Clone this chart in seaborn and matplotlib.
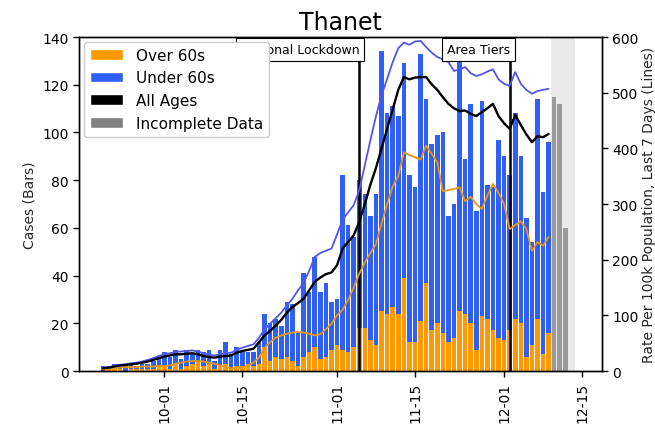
import matplotlib
matplotlib.use("Agg")
import matplotlib.pyplot as plt
import matplotlib.dates as mdates
import matplotlib.transforms as mtransforms
from matplotlib.patches import Patch
import numpy as np
import pandas as pd
import seaborn as sns

# Colours
ORANGE = "#ff9900"
BLUE = "#2f5ff5"
BLUE_LINE = "#5555e8"
ORANGE_LINE = "#e8960f"

TITLE = "Thanet"
FIRST_DAY = "2020-09-20"

# Daily cases, 2020-09-20 .. 2020-12-09
cases_all = [
    2, 2, 3, 3, 3, 3, 2, 3, 3, 4, 6,
    8, 6, 9, 5, 9, 7, 9, 8, 9, 4, 9, 12, 7, 10,
    8, 8, 8, 12, 24, 20, 22, 19, 29, 28, 16, 41, 33, 48, 33, 37, 29,
    30, 82, 61, 56, 80, 74, 65, 74, 134, 108, 111, 107, 129, 82, 77,
    133, 114, 95, 99, 100, 65, 70, 131, 89, 112, 67, 113, 78, 77, 97,
    90, 82, 108, 90, 64, 54, 114, 75, 96,
]
cases_over60 = [
    0, 1, 1, 1, 0, 1, 1, 1, 1, 1, 2,
    2, 1, 3, 1, 2, 3, 4, 2, 3, 1, 2, 3, 1, 2,
    2, 3, 2, 3, 10, 4, 6, 5, 6, 4, 2, 6, 8, 10, 5, 6, 9,
    11, 9, 8, 10, 18, 18, 13, 11, 25, 24, 27, 24, 39, 12, 12,
    21, 37, 17, 20, 16, 12, 14, 25, 24, 20, 9, 23, 22, 17, 14,
    13, 17, 22, 20, 6, 11, 22, 7, 16,
]

# Incomplete days (grey bars)
incomplete_days = ["2020-12-10", "2020-12-11", "2020-12-12"]
incomplete_cases = [115, 112, 60]

# 7-day rate per 100k, same days as the bars
rate_all = [
    5, 6, 8, 10, 11, 12, 13, 15, 17, 20, 23,
    26, 28, 30, 30, 31, 32, 30, 27, 25, 24, 26, 27, 28, 33,
    36, 38, 40, 52, 64, 72, 82, 92, 105, 115, 122, 130, 145, 160, 168, 174, 177,
    190, 220, 232, 244, 268, 300, 335, 365, 400, 435, 470, 505, 528, 524, 527,
    528, 528, 515, 505, 492, 480, 472, 467, 468, 462, 458, 465, 472, 480, 458,
    445, 435, 460, 442, 425, 411, 422, 420, 426,
]
rate_under60 = [
    5, 7, 9, 11, 12, 14, 15, 17, 20, 23, 27,
    30, 32, 34, 35, 36, 37, 35, 32, 29, 28, 30, 32, 33, 38,
    42, 45, 48, 60, 75, 85, 95, 105, 118, 130, 145, 158, 180, 205, 212, 216, 220,
    245, 272, 285, 298, 325, 370, 415, 458, 495, 525, 555, 580, 590, 586, 592,
    593, 582, 572, 564, 560, 555, 539, 542, 546, 535, 530, 533, 538, 542, 524,
    516, 512, 537, 516, 505, 498, 503, 505, 507,
]
rate_over60 = [
    3, 4, 5, 6, 7, 7, 7, 8, 8, 8, 9,
    9, 10, 13, 15, 17, 18, 18, 17, 15, 13, 10, 7, 5, 5,
    6, 10, 15, 24, 42, 52, 60, 64, 67, 69, 70, 69, 67, 64, 66, 75, 85,
    100, 110, 128, 150, 175, 195, 212, 228, 265, 300, 332, 350, 393, 388, 384,
    380, 405, 390, 375, 323, 325, 327, 330, 305, 313, 300, 291, 315, 336, 320,
    300, 255, 262, 269, 255, 216, 232, 225, 241,
]

event_days = ["2020-11-05", "2020-12-02"]
event_labels = ["National Lockdown", "Area Tiers"]

tick_days = ["2020-10-01", "2020-10-15", "2020-11-01", "2020-11-15", "2020-12-01", "2020-12-15"]


sns.set_style("ticks", {"axes.edgecolor": "black", "xtick.color": "black",
                        "ytick.color": "black", "text.color": "black"})
plt.rcParams["font.family"] = ["DejaVu Sans"]

days = pd.date_range(FIRST_DAY, periods=len(cases_all), freq="D")
over60 = np.array(cases_over60)
under60 = np.array(cases_all) - over60

fig = plt.figure(figsize=(6.55, 4.35), dpi=100)
ax = fig.add_axes([0.1206, 0.1448, 0.7985, 0.7678])

# Stacked bars
ax.bar(days, over60, width=0.82, color=ORANGE, linewidth=0)
ax.bar(days, under60, bottom=over60, width=0.82, color=BLUE, linewidth=0)

# Incomplete data
inc = pd.to_datetime(incomplete_days)
ax.axvspan(pd.Timestamp("2020-12-09 12:00"), pd.Timestamp("2020-12-13 18:00"),
           color="grey", alpha=0.16, linewidth=0)
ax.bar(inc, incomplete_cases, width=0.82, color="grey", alpha=0.75, linewidth=0)

# Event lines
for d in event_days:
    ax.axvline(pd.Timestamp(d), color="black", linewidth=1.8, zorder=3)

ax.set_ylim(0, 140)
ax.set_yticks(np.arange(0, 141, 20))
ax.set_ylabel("Cases (Bars)", fontsize=10)

# Rate lines
ax2 = ax.twinx()
sns.lineplot(x=days, y=rate_over60, ax=ax2, color=ORANGE_LINE, linewidth=1.3)
sns.lineplot(x=days, y=rate_under60, ax=ax2, color=BLUE_LINE, linewidth=1.3)
sns.lineplot(x=days, y=rate_all, ax=ax2, color="black", linewidth=1.7)
ax2.set_ylim(0, 600)
ax2.set_yticks(np.arange(0, 601, 100))
ax2.set_ylabel("Rate Per 100k Population, Last 7 Days (Lines)", fontsize=10, labelpad=2)

ax.set_xlim(pd.Timestamp("2020-09-15 16:00"), pd.Timestamp("2020-12-18 14:00"))
ax.set_xticks(pd.to_datetime(tick_days))
ax.xaxis.set_major_formatter(mdates.DateFormatter("%m-%d"))
for t in ax.get_xticklabels():
    t.set_rotation(90)

for a in (ax, ax2):
    a.tick_params(axis="both", labelsize=10, length=4, width=1)
    for s in a.spines.values():
        s.set_color("black")
        s.set_linewidth(1.0)

# Event labels
trans = mtransforms.blended_transform_factory(ax2.transData, ax2.transAxes)
for d, lab in zip(event_days, event_labels):
    ax2.text(pd.Timestamp(d), 0.962, lab, transform=trans, ha="right", va="center",
             fontsize=9, zorder=4,
             bbox=dict(boxstyle="square,pad=0.4", facecolor="white",
                       edgecolor="black", linewidth=0.8))

handles = [
    Patch(facecolor=ORANGE, label="Over 60s"),
    Patch(facecolor=BLUE, label="Under 60s"),
    Patch(facecolor="black", label="All Ages"),
    Patch(facecolor="grey", label="Incomplete Data"),
]
leg = ax2.legend(handles=handles, loc="upper left", fontsize=11, handlelength=2.2,
                 borderaxespad=0.3, framealpha=1.0)
leg.set_zorder(10)

ax.set_title(TITLE, fontsize=17)

fig.savefig("out.png", dpi=100)
